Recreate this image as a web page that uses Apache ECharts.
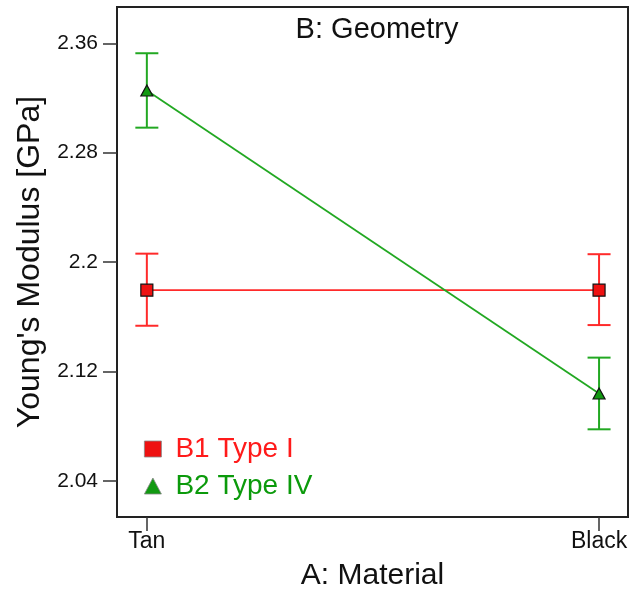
<!DOCTYPE html>
<html>
<head>
<meta charset="utf-8">
<script src="https://cdn.jsdelivr.net/npm/echarts@6/dist/echarts.min.js"></script>
<style>
  html, body { margin: 0; padding: 0; background: #fff; }
  #chart { width: 632px; height: 593px; }
</style>
</head>
<body>
<div id="chart"></div>
<script>
// Interaction plot: Young's modulus by material (A) for two geometries (B)
const materials = ['Tan', 'Black'];
const yTicks = [2.04, 2.12, 2.2, 2.28, 2.36];

const b1Name = 'B1 Type I';
const b1Mean = [2.1795, 2.1795];
const b1Low = [2.1535, 2.1540];
const b1High = [2.2062, 2.2058];

const b2Name = 'B2 Type IV';
const b2Mean = [2.3255, 2.1040];
const b2Low = [2.2983, 2.0778];
const b2High = [2.3527, 2.1302];

const FONT = '"Liberation Sans", Arial, sans-serif';
const RED = '#ff2a2a';
const GREEN = '#22a822';

function points(vals) { return vals.map((v, i) => [i, v]); }
function bars(lo, hi) { return lo.map((v, i) => [i, v, hi[i]]); }

function errorBarSeries(name, lo, hi, color) {
  return {
    type: 'custom',
    name: name + ' err',
    z: 1,
    silent: true,
    data: bars(lo, hi),
    encode: { x: 0, y: [1, 2] },
    renderItem: function (params, api) {
      const x = api.value(0);
      const a = api.coord([x, api.value(1)]);
      const b = api.coord([x, api.value(2)]);
      const hw = 11.5;
      const style = { stroke: color, lineWidth: 2, fill: null };
      return {
        type: 'group',
        children: [
          { type: 'line', shape: { x1: a[0], y1: a[1], x2: b[0], y2: b[1] }, style: style },
          { type: 'line', shape: { x1: a[0] - hw, y1: a[1], x2: a[0] + hw, y2: a[1] }, style: style },
          { type: 'line', shape: { x1: b[0] - hw, y1: b[1], x2: b[0] + hw, y2: b[1] }, style: style }
        ]
      };
    }
  };
}

const chart = echarts.init(document.getElementById('chart'), null, { renderer: 'canvas' });

chart.setOption({
  animation: false,
  backgroundColor: '#ffffff',
  textStyle: { fontFamily: FONT },
  title: {
    text: 'B: Geometry',
    left: 372,
    top: 10,
    textAlign: 'center',
    textStyle: { fontFamily: FONT, fontSize: 29, fontWeight: 'normal', color: '#111' }
  },
  legend: {
    orient: 'vertical',
    left: 139,
    top: 430,
    itemWidth: 17,
    itemHeight: 16,
    itemGap: 9,
    selectedMode: false,
    textStyle: { fontFamily: FONT, fontSize: 28, padding: [0, 0, 0, 9] },
    data: [
      { name: b1Name, icon: 'rect', itemStyle: { color: '#ee1111', borderColor: '#888', borderWidth: 0.8 }, textStyle: { color: '#ff1a1a' } },
      { name: b2Name, icon: 'triangle', itemStyle: { color: '#119911', borderColor: '#888', borderWidth: 0.8 }, textStyle: { color: '#0b9a0b' } }
    ]
  },
  grid: {
    left: 117, right: 4, top: 7, bottom: 76,
    outerBoundsMode: 'none',
    containLabel: false,
    show: true, borderColor: '#222', borderWidth: 2, backgroundColor: '#fff'
  },
  xAxis: {
    type: 'value',
    min: -0.066,
    max: 1.064,
    name: 'A: Material',
    nameLocation: 'middle',
    nameGap: 44,
    nameTextStyle: { fontFamily: FONT, fontSize: 30, color: '#111' },
    splitLine: { show: false },
    axisLine: { show: true, onZero: false, lineStyle: { color: '#222', width: 2 } },
    axisTick: { show: true, length: 14, customValues: [0, 1], lineStyle: { color: '#333', width: 1.5 } },
    axisLabel: {
      customValues: [0, 1],
      margin: 13,
      fontFamily: FONT, fontSize: 23, color: '#111',
      formatter: function (v) { return materials[Math.round(v)]; }
    }
  },
  yAxis: {
    type: 'value',
    min: 2.0137,
    max: 2.3865,
    name: "Young's Modulus [GPa]",
    nameLocation: 'middle',
    nameGap: 70,
    nameTextStyle: { fontFamily: FONT, fontSize: 32, color: '#111' },
    splitLine: { show: false },
    axisLine: { show: true, onZero: false, lineStyle: { color: '#222', width: 2 } },
    axisTick: { show: true, length: 14, customValues: yTicks, lineStyle: { color: '#333', width: 1.5 } },
    axisLabel: {
      customValues: yTicks,
      margin: 19,
      fontFamily: FONT, fontSize: 21, color: '#111'
    }
  },
  series: [
    errorBarSeries(b1Name, b1Low, b1High, RED),
    errorBarSeries(b2Name, b2Low, b2High, GREEN),
    {
      type: 'line',
      name: b1Name,
      z: 3,
      data: points(b1Mean),
      symbol: 'rect',
      symbolSize: 12,
      lineStyle: { color: RED, width: 1.8 },
      itemStyle: { color: '#ee1111', borderColor: '#111', borderWidth: 1.2 }
    },
    {
      type: 'line',
      name: b2Name,
      z: 3,
      data: points(b2Mean),
      symbol: 'triangle',
      symbolSize: [12, 11],
      lineStyle: { color: GREEN, width: 1.8 },
      itemStyle: { color: '#119911', borderColor: '#111', borderWidth: 1.2 }
    }
  ]
});
</script>
</body>
</html>
